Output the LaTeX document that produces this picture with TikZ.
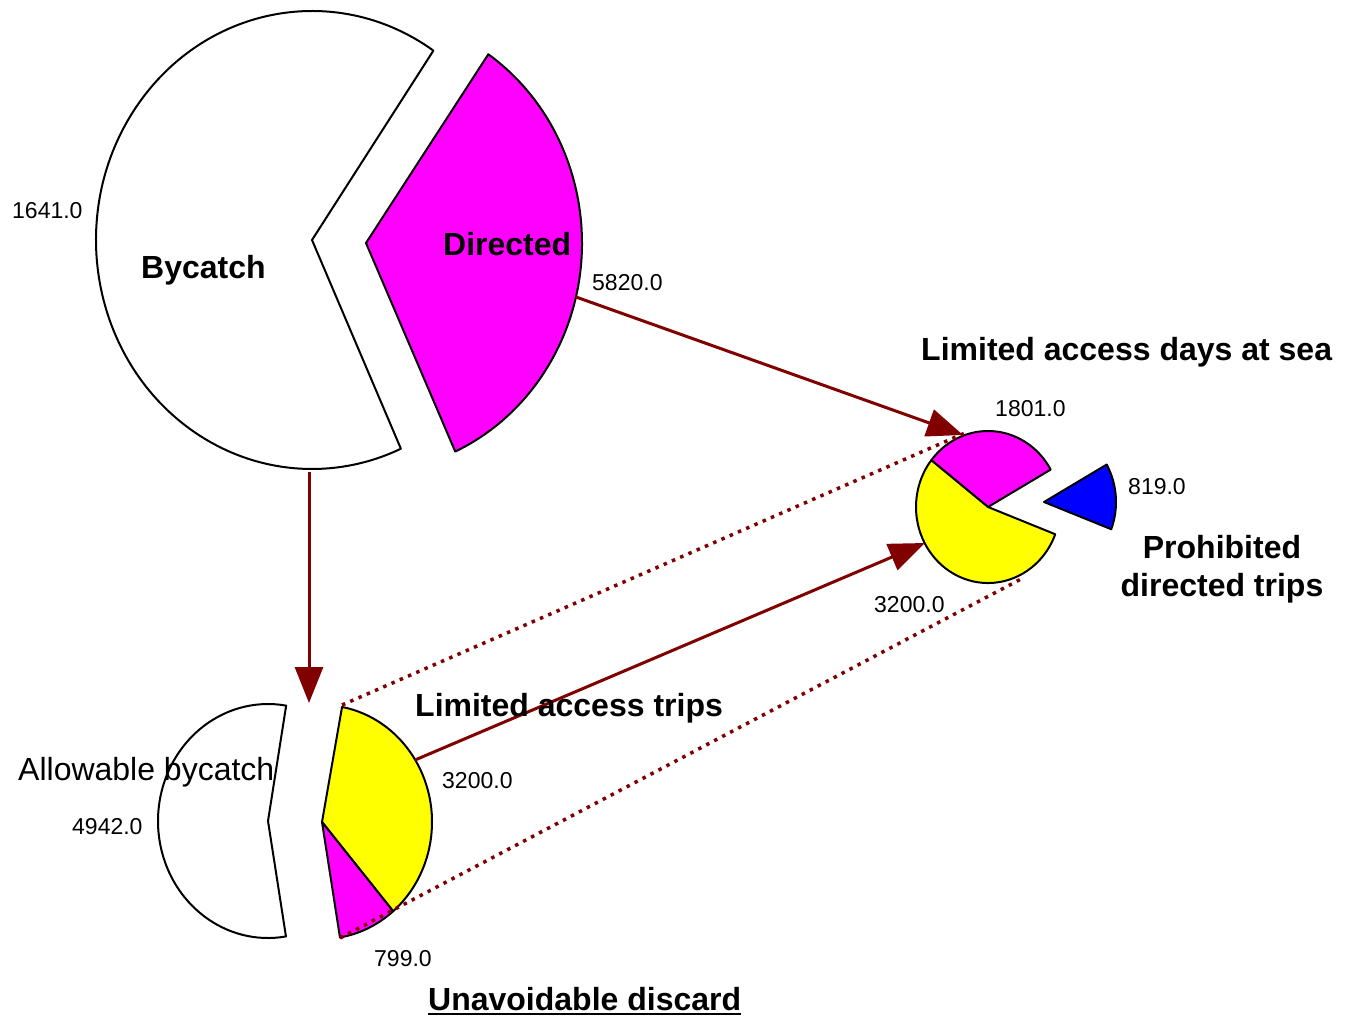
\documentclass[tikz,border=0pt]{standalone}
\usepackage{fontspec}
\setmainfont{Liberation Sans}
\usetikzlibrary{arrows.meta}
\definecolor{darkred}{RGB}{128,0,0}
\definecolor{piemagenta}{RGB}{255,0,255}
\definecolor{pieyellow}{RGB}{255,255,0}
\definecolor{pieblue}{RGB}{0,0,255}

\begin{document}
\begin{tikzpicture}[x=1pt, y=-1pt,
  slice/.style={draw=black, line width=2pt, line join=round},
  flow/.style={draw=darkred, line width=3pt, -{Triangle[length=36pt, width=28pt]}},
  link/.style={draw=darkred, line width=3.5pt, dash pattern=on 3.5pt off 5.5pt},
  num/.style={font=\fontsize{23}{27}\selectfont, inner sep=0pt},
  lbl/.style={font=\fontsize{32}{38}\selectfont\bfseries, inner sep=0pt}]
\useasboundingbox[fill=white] (0,0) rectangle (1349,1017);
\draw[slice, fill=white] (312,240) ++(-55.8:216 and 229) arc[start angle=-55.8, end angle=-294.3, x radius=216, y radius=229] -- (312,240) -- cycle;
\draw[slice, fill=piemagenta] (366,243) ++(-55.5:216 and 229) arc[start angle=-55.5, end angle=65.6, x radius=216, y radius=229] -- (366,243) -- cycle;
\draw[slice, fill=piemagenta] (988,507) ++(-142:72 and 76) arc[start angle=-142, end angle=-29.5, x radius=72, y radius=76] -- (988,507) -- cycle;
\draw[slice, fill=pieyellow] (988,507) ++(21:72 and 76) arc[start angle=21, end angle=218, x radius=72, y radius=76] -- (988,507) -- cycle;
\draw[slice, fill=pieblue] (1044,502) ++(-29.5:72 and 76) arc[start angle=-29.5, end angle=21, x radius=72, y radius=76] -- (1044,502) -- cycle;
\draw[slice, fill=pieyellow] (322,822) ++(-79.5:110 and 117) arc[start angle=-79.5, end angle=49.7, x radius=110, y radius=117] -- (322,822) -- cycle;
\draw[slice, fill=piemagenta] (322,822) ++(49.7:110 and 117) arc[start angle=49.7, end angle=80.6, x radius=110, y radius=117] -- (322,822) -- cycle;
\draw[slice, fill=white] (268,821) ++(80.6:110 and 117) arc[start angle=80.6, end angle=279.5, x radius=110, y radius=117] -- (268,821) -- cycle;
\coordinate (dirout) at (576,297);
\coordinate (daysin) at (963,435);
\coordinate (bycout) at (309,472);
\coordinate (allowin) at (309,703);
\coordinate (tripsout) at (415,760);
\coordinate (daysin2) at (925,543);
\coordinate (tripstop) at (342,705);
\coordinate (daystop) at (965,433);
\coordinate (discbot) at (340,938);
\coordinate (daysbot) at (1023,578);
\draw[link] (tripstop) -- (daystop);
\draw[link] (discbot) -- (daysbot);
\draw[flow] (dirout) -- (daysin);
\draw[flow] (bycout) -- (allowin);
\draw[flow] (tripsout) -- (daysin2);
\node[num, anchor=base west] (bycval) at (12,218) {1641.0};
\node[lbl, anchor=base west] (byc) at (141,278) {Bycatch};
\node[lbl, anchor=base west] (dir) at (443,255) {Directed};
\node[num, anchor=base west] (dirval) at (592,290) {5820.0};
\node[lbl, anchor=base west] (days) at (921,360) {Limited access days at sea};
\node[num, anchor=base west] (daysval) at (995,416) {1801.0};
\node[num, anchor=base west] (prohval) at (1128,494) {819.0};
\node[lbl, align=center] (proh) at (1222,569) {Prohibited\\directed trips};
\node[num, anchor=base west] (daysval2) at (874,612) {3200.0};
\node[lbl, anchor=base west] (trips) at (415,716) {Limited access trips};
\node[num, anchor=base west] (tripsval) at (442,788) {3200.0};
\node[lbl, font=\fontsize{32}{38}\selectfont, anchor=base west] (allow) at (18,780) {Allowable bycatch};
\node[num, anchor=base west] (allowval) at (72,834) {4942.0};
\node[num, anchor=base west] (discval) at (374,966) {799.0};
\node[lbl, anchor=base west] (disc) at (428,1010) {Unavoidable discard};
\draw[line width=2.5pt] ([yshift=-4pt]disc.base west) -- ([yshift=-4pt]disc.base east);
\end{tikzpicture}
\end{document}
